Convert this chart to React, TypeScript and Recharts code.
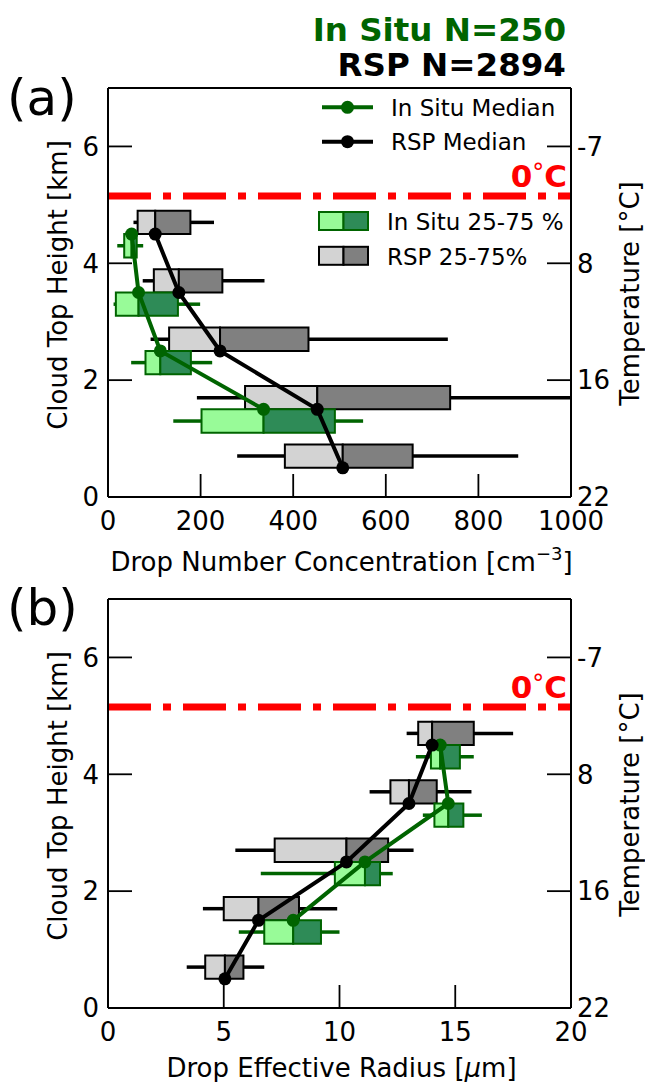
import React from 'react';
import { ScatterChart, XAxis, YAxis, Scatter, ReferenceArea, ReferenceLine } from 'recharts';

const FONT = '"DejaVu Sans", Verdana, sans-serif';
const GREEN = '#006400';
const IN_SITU_LIGHT = '#98fb98';
const IN_SITU_DARK = '#2e8b57';
const RSP_LIGHT = '#d3d3d3';
const RSP_DARK = '#808080';
const RED = '#ff0000';

// ---- shared data ----
const inSituCount = 250;
const rspCount = 2894;
const rspLevelsKm = [4.5, 3.5, 2.5, 1.5, 0.5];
const inSituLevelsKm = [4.5, 3.5, 2.5, 1.5];
const freezingLevelKm = 5.15;
const heightDomain = [0, 7];
const heightTicks = [0, 2, 4, 6];
const temperatureTickLabels = ['22', '16', '8', '-7'];
const BOX_HEIGHT_KM = 0.4;

// ---- panel (a): drop number concentration ----
const ndDomain = [0, 1000];
const ndTicks = [0, 200, 400, 600, 800, 1000];
const rspNdP10 = [55, 75, 92, 192, 279];
const rspNdP25 = [64, 99, 132, 296, 382];
const rspNdMedian = [102, 153, 242, 452, 507];
const rspNdP75 = [178, 247, 433, 739, 658];
const rspNdP90 = [229, 338, 734, 1090, 886];
const inSituNdP10 = [20, 12, 50, 141];
const inSituNdP25 = [35, 17, 81, 202];
const inSituNdMedian = [51, 66, 113, 336];
const inSituNdP75 = [62, 151, 179, 490];
const inSituNdP90 = [76, 199, 225, 551];

// ---- panel (b): drop effective radius ----
const reDomain = [0, 20];
const reTicks = [0, 5, 10, 15, 20];
const rspReP10 = [12.9, 11.3, 5.5, 4.1, 3.4];
const rspReP25 = [13.4, 12.2, 7.2, 5.0, 4.2];
const rspReMedian = [14.0, 13.0, 10.3, 6.5, 5.05];
const rspReP75 = [15.8, 14.2, 12.1, 8.25, 5.85];
const rspReP90 = [17.5, 15.7, 13.2, 9.9, 6.75];
const inSituReP10 = [13.3, 13.6, 6.6, 5.65];
const inSituReP25 = [13.95, 14.1, 9.8, 6.75];
const inSituReMedian = [14.35, 14.7, 11.1, 8.0];
const inSituReP75 = [15.2, 15.35, 11.75, 9.2];
const inSituReP90 = [15.8, 16.15, 12.3, 10.0];

type BoxStyle = { light: string; dark: string; edge: string; whisker: string };
const rspStyle: BoxStyle = { light: RSP_LIGHT, dark: RSP_DARK, edge: '#000', whisker: '#000' };
const inSituStyle: BoxStyle = { light: IN_SITU_LIGHT, dark: IN_SITU_DARK, edge: GREEN, whisker: GREEN };

function boxMarks(
  id: string,
  levels: number[],
  p10: number[],
  p25: number[],
  med: number[],
  p75: number[],
  p90: number[],
  above: boolean,
  style: BoxStyle
) {
  const out: React.ReactElement[] = [];
  levels.forEach((lv, i) => {
    const yLo = above ? lv : lv - BOX_HEIGHT_KM;
    const yHi = yLo + BOX_HEIGHT_KM;
    const yMid = (yLo + yHi) / 2;
    out.push(
      <ReferenceLine
        key={`${id}-wl-${i}`}
        segment={[{ x: p10[i], y: yMid }, { x: p25[i], y: yMid }]}
        stroke={style.whisker}
        strokeWidth={3.5}
        ifOverflow="hidden"
      />
    );
    out.push(
      <ReferenceLine
        key={`${id}-wr-${i}`}
        segment={[{ x: p75[i], y: yMid }, { x: p90[i], y: yMid }]}
        stroke={style.whisker}
        strokeWidth={3.5}
        ifOverflow="hidden"
      />
    );
    out.push(
      <ReferenceArea
        key={`${id}-bl-${i}`}
        x1={p25[i]}
        x2={med[i]}
        y1={yLo}
        y2={yHi}
        fill={style.light}
        fillOpacity={1}
        stroke={style.edge}
        strokeWidth={2}
        ifOverflow="visible"
      />
    );
    out.push(
      <ReferenceArea
        key={`${id}-bd-${i}`}
        x1={med[i]}
        x2={p75[i]}
        y1={yLo}
        y2={yHi}
        fill={style.dark}
        fillOpacity={1}
        stroke={style.edge}
        strokeWidth={2}
        ifOverflow="visible"
      />
    );
  });
  return out;
}

const tickStyle = { fill: '#000', fontSize: 26, fontFamily: FONT };
const axisLineStyle = { stroke: '#000', strokeWidth: 2 };
const tickLineStyle = { stroke: '#000', strokeWidth: 1.8 };

type PanelProps = {
  width: number;
  height: number;
  marginTop: number;
  xAxisHeight: number;
  xDomain: number[];
  xTicks: number[];
  xTitle: React.ReactNode;
  xTitleBaseline: number;
  rsp: number[][];
  inSitu: number[][];
};

function ProfilePanel(p: PanelProps) {
  const [rP10, rP25, rMed, rP75, rP90] = p.rsp;
  const [iP10, iP25, iMed, iP75, iP90] = p.inSitu;
  const rspPts = rspLevelsKm.map((y, i) => ({ x: rMed[i], y }));
  const inSituPts = inSituLevelsKm.map((y, i) => ({ x: iMed[i], y }));
  return (
    <ScatterChart width={p.width} height={p.height} margin={{ top: p.marginTop, right: 0, bottom: 0, left: 0 }}>
      <XAxis
        type="number"
        dataKey="x"
        domain={p.xDomain}
        ticks={p.xTicks}
        interval={0}
        allowDataOverflow
        height={p.xAxisHeight}
        axisLine={axisLineStyle}
        tickLine={tickLineStyle}
        tickSize={-23}
        tickMargin={38}
        tick={tickStyle}
        label={(lp: any) => {
          const vb = lp.viewBox;
          return (
            <text
              x={vb.x + vb.width / 2 + 2}
              y={vb.y + p.xTitleBaseline}
              textAnchor="middle"
              fontFamily={FONT}
              fontSize={26}
              fill="#000"
            >
              {p.xTitle}
            </text>
          );
        }}
      />
      <YAxis
        type="number"
        dataKey="y"
        domain={heightDomain}
        ticks={heightTicks}
        interval={0}
        allowDataOverflow
        width={108}
        axisLine={axisLineStyle}
        tickLine={tickLineStyle}
        tickSize={-24}
        tickMargin={33}
        tick={tickStyle}
        label={(lp: any) => {
          const vb = lp.viewBox;
          const cx = vb.x + 67;
          const cy = vb.y + 197;
          return (
            <text
              x={cx}
              y={cy}
              transform={`rotate(-90 ${cx} ${cy})`}
              textAnchor="middle"
              fontFamily={FONT}
              fontSize={26}
              fill="#000"
            >
              Cloud Top Height [km]
            </text>
          );
        }}
      />
      <YAxis
        yAxisId="temp"
        orientation="right"
        type="number"
        domain={heightDomain}
        ticks={heightTicks}
        interval={0}
        allowDataOverflow
        width={74}
        axisLine={axisLineStyle}
        tickLine={tickLineStyle}
        tickSize={-24}
        tickMargin={30}
        tick={tickStyle}
        tickFormatter={(v: number) => temperatureTickLabels[heightTicks.indexOf(v)]}
        label={(lp: any) => {
          const vb = lp.viewBox;
          const cx = vb.x + 68;
          const cy = vb.y + vb.height / 2 + 1;
          return (
            <text
              x={cx}
              y={cy}
              transform={`rotate(-90 ${cx} ${cy})`}
              textAnchor="middle"
              fontFamily={FONT}
              fontSize={26}
              fill="#000"
            >
              Temperature [°C]
            </text>
          );
        }}
      />
      <ReferenceLine y={heightDomain[1]} stroke="#000" strokeWidth={2} ifOverflow="visible" />
      <ReferenceLine
        y={freezingLevelKm}
        stroke={RED}
        strokeWidth={7}
        strokeDasharray="43 12 8 12"
        label={(lp: any) => {
          const vb = lp.viewBox;
          return (
            <text
              x={vb.x + vb.width - 4}
              y={vb.y - 9.5}
              textAnchor="end"
              fontFamily={FONT}
              fontSize={31}
              fontWeight="bold"
              fill={RED}
            >
              0<tspan fontWeight="normal" fontSize={24} dy={-6}>°</tspan>
              <tspan dy={6}>C</tspan>
            </text>
          );
        }}
      />
      {boxMarks('rsp', rspLevelsKm, rP10, rP25, rMed, rP75, rP90, true, rspStyle)}
      {boxMarks('ins', inSituLevelsKm, iP10, iP25, iMed, iP75, iP90, false, inSituStyle)}
      <Scatter
        data={inSituPts}
        fill={GREEN}
        line={{ stroke: GREEN, strokeWidth: 4 }}
        lineJointType="linear"
        shape={(sp: any) => <circle cx={sp.cx} cy={sp.cy} r={6.5} fill={GREEN} />}
        isAnimationActive={false}
      />
      <Scatter
        data={rspPts}
        fill="#000"
        line={{ stroke: '#000', strokeWidth: 4 }}
        lineJointType="linear"
        shape={(sp: any) => <circle cx={sp.cx} cy={sp.cy} r={6.5} fill="#000" />}
        isAnimationActive={false}
      />
    </ScatterChart>
  );
}

const legendLineItems = [
  { label: 'In Situ Median', color: GREEN },
  { label: 'RSP Median', color: '#000' },
];
const legendBoxItems = [
  { label: 'In Situ 25-75 %', style: inSituStyle },
  { label: 'RSP 25-75%', style: rspStyle },
];

function Overlay() {
  return (
    <svg
      width={645}
      height={1082}
      style={{ position: 'absolute', left: 0, top: 0, pointerEvents: 'none' }}
      fontFamily={FONT}
    >
      <text x={566} y={41} textAnchor="end" fontSize={32.5} fontWeight="bold" fill={GREEN}>
        In Situ N={inSituCount}
      </text>
      <text x={566} y={76} textAnchor="end" fontSize={32.5} fontWeight="bold" fill="#000">
        RSP N={rspCount}
      </text>
      <text x={7} y={115} fontSize={50} fill="#000">(a)</text>
      <text x={7} y={625} fontSize={50} fill="#000">(b)</text>
      {legendLineItems.map((it, i) => {
        const y = 107.3 + i * 34.4;
        return (
          <g key={it.label}>
            <line x1={322} x2={373} y1={y} y2={y} stroke={it.color} strokeWidth={4} />
            <circle cx={347.5} cy={y} r={6.5} fill={it.color} />
            <text x={391} y={y + 8.5} fontSize={23} fill="#000">{it.label}</text>
          </g>
        );
      })}
      {legendBoxItems.map((it, i) => {
        const y = 212 + i * 34.8;
        return (
          <g key={it.label}>
            <rect x={319} y={y} width={24.5} height={18} fill={it.style.light} stroke={it.style.edge} strokeWidth={2} />
            <rect x={343.5} y={y} width={24.5} height={18} fill={it.style.dark} stroke={it.style.edge} strokeWidth={2} />
            <text x={387} y={y + 18} fontSize={23} fill="#000">{it.label}</text>
          </g>
        );
      })}
    </svg>
  );
}

export default function App() {
  return (
    <div style={{ position: 'absolute', left: 0, top: 0, width: 645, height: 1082, background: '#fff', fontFamily: FONT }}>
      <div style={{ position: 'absolute', left: 0, top: 0 }}>
        <ProfilePanel
          width={645}
          height={580}
          marginTop={88}
          xAxisHeight={83}
          xDomain={ndDomain}
          xTicks={ndTicks}
          xTitleBaseline={74}
          xTitle={
            <>
              <tspan>Drop Number Concentration [cm</tspan>
              <tspan dy={-11} fontSize={18}>{'\u22123'}</tspan>
              <tspan dy={11}>]</tspan>
            </>
          }
          rsp={[rspNdP10, rspNdP25, rspNdMedian, rspNdP75, rspNdP90]}
          inSitu={[inSituNdP10, inSituNdP25, inSituNdMedian, inSituNdP75, inSituNdP90]}
        />
      </div>
      <div style={{ position: 'absolute', left: 0, top: 520 }}>
        <ProfilePanel
          width={645}
          height={562}
          marginTop={79}
          xAxisHeight={74}
          xDomain={reDomain}
          xTicks={reTicks}
          xTitleBaseline={69}
          xTitle={
            <>
              <tspan>Drop Effective Radius [</tspan>
              <tspan fontStyle="italic">μ</tspan>
              <tspan>m]</tspan>
            </>
          }
          rsp={[rspReP10, rspReP25, rspReMedian, rspReP75, rspReP90]}
          inSitu={[inSituReP10, inSituReP25, inSituReMedian, inSituReP75, inSituReP90]}
        />
      </div>
      <Overlay />
    </div>
  );
}
